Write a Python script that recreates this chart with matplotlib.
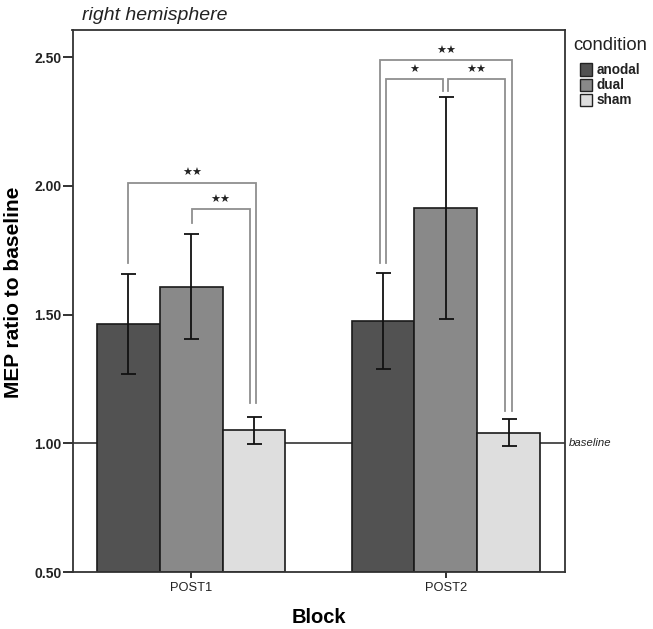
import matplotlib
matplotlib.use("Agg")
import matplotlib.pyplot as plt
import numpy as np
from matplotlib.patches import Rectangle
import matplotlib.transforms as mtransforms

plt.rcParams['font.family'] = ['Liberation Sans', 'DejaVu Sans']

# ---------------- data ----------------
blocks = ["POST1", "POST2"]
conditions = ["anodal", "dual", "sham"]
means = {
    "anodal": [1.463, 1.475],
    "dual":   [1.607, 1.914],
    "sham":   [1.050, 1.041],
}
err_low = {
    "anodal": [1.269, 1.288],
    "dual":   [1.404, 1.483],
    "sham":   [0.998, 0.990],
}
err_high = {
    "anodal": [1.658, 1.663],
    "dual":   [1.812, 2.345],
    "sham":   [1.103, 1.093],
}
colors = {"anodal": "#525252", "dual": "#898989", "sham": "#dedede"}

# significance brackets: (block, cond_left, cond_right, top, left_bottom, right_bottom, label, dx_left_px, dx_right_px)
brackets = [
    (0, "anodal", "sham", 2.012, 1.699, 1.157, "★★", 0, 1.5),
    (0, "dual",   "sham", 1.910, 1.857, 1.157, "★★", 0.5, -4.5),
    (1, "anodal", "sham", 2.489, 1.699, 1.125, "★★", -3, 3),
    (1, "anodal", "dual", 2.415, 1.699, 2.370, "★", 3.5, -3.3),
    (1, "dual",   "sham", 2.415, 2.370, 1.125, "★★", 2, -4),
]
baseline_value = 1.0
yticks = [0.5, 1.0, 1.5, 2.0, 2.5]

# ---------------- figure ----------------
W, H = 653, 629
fig = plt.figure(figsize=(W / 100, H / 100), dpi=100)
ax = fig.add_axes([72.5 / W, 1 - 572 / H, (565 - 72.5) / W, (572 - 30) / H])

bar_w = 0.247
x = np.arange(len(blocks))
offsets = {c: (i - 1) * bar_w for i, c in enumerate(conditions)}
px = 1 / 255.0  # data units per pixel in x

ax.axhline(baseline_value, color="#222222", lw=1.1, zorder=1)

for c in conditions:
    xs = x + offsets[c]
    m = np.array(means[c])
    lo = m - np.array(err_low[c])
    hi = np.array(err_high[c]) - m
    ax.bar(xs, m - 0.5, bottom=0.5, width=bar_w, color=colors[c],
           edgecolor="#1a1a1a", linewidth=1.2, zorder=2)
    ax.errorbar(xs, m, yerr=[lo, hi], fmt="none", ecolor="#111111",
                elinewidth=1.3, capsize=7.5 * 0.72, capthick=1.3, zorder=3)

bcol = "#8f8f8f"
for b, cl, cr, top, lb, rb, lab, dl, dr in brackets:
    xl = x[b] + offsets[cl] + dl * px
    xr = x[b] + offsets[cr] + dr * px
    ax.plot([xl, xl, xr, xr], [lb, top, top, rb], color=bcol, lw=1.3,
            solid_joinstyle="miter", zorder=4)
    ax.annotate(lab, xy=((xl + xr) / 2, top), xytext=(0, 9.5 * 0.72),
                textcoords="offset points", ha="center", va="center",
                fontsize=8, family="DejaVu Sans", color="#222222", zorder=5)

ax.set_xlim(-0.465, 1.467)
ax.set_ylim(0.5, 2.606)
ax.set_yticks(yticks)
ax.set_yticklabels([f"{v:.2f}" for v in yticks], fontweight="bold", fontsize=10)
ax.set_xticks(x)
ax.set_xticklabels(blocks, fontsize=9.3)
ax.tick_params(axis="y", direction="out", length=7, width=1.3, pad=1, colors="#222222")
ax.tick_params(axis="x", direction="out", length=4, width=1.3, pad=3, colors="#222222")
for sp in ax.spines.values():
    sp.set_linewidth(1.3)
    sp.set_color("#333333")

ax.set_xlabel("Block", fontsize=14.5, fontweight="bold", labelpad=10)
ax.set_ylabel("MEP ratio to baseline", fontsize=15, fontweight="bold")
ax.yaxis.set_label_coords(-(72.5 - 23) / (565 - 72.5), (572 - 292) / (572 - 30))

trans = mtransforms.blended_transform_factory(ax.transAxes, ax.transData)
ax.text(1.008, baseline_value, "baseline", transform=trans, ha="left", va="center",
        fontsize=8.2, style="italic", color="#222222")

fig.text(82 / W, 1 - 15 / H, "right hemisphere", ha="left", va="center",
         fontsize=14, style="italic", color="#222222")

# legend drawn manually (pixel layout of the reference)
fig.text(573 / W, 1 - 46 / H, "condition", ha="left", va="center",
         fontsize=13.3, color="#222222")
for c, yc in zip(conditions, [69.5, 85, 100]):
    fig.add_artist(Rectangle((580 / W, 1 - (yc + 6) / H), 12 / W, 12 / H,
                             transform=fig.transFigure, facecolor=colors[c],
                             edgecolor="#222222", linewidth=1.0))
    fig.text(596.5 / W, 1 - yc / H, c, ha="left", va="center",
             fontsize=9.8, fontweight="bold", color="#222222")

fig.savefig("out.png", dpi=100)
